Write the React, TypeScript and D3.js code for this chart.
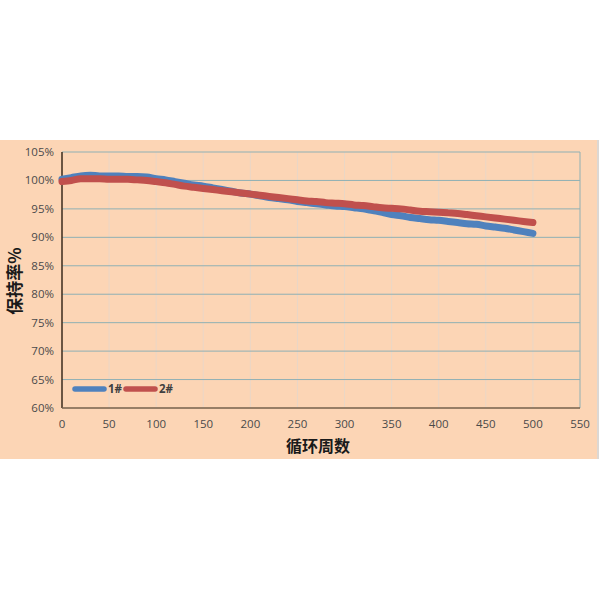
import React from "react";
import * as d3 from "d3";

const cycles = [0,10,20,30,40,50,60,70,80,90,100,110,120,130,140,150,160,170,180,190,200,210,220,230,240,250,260,270,280,290,300,310,320,330,340,350,360,370,380,390,400,410,420,430,440,450,460,470,480,490,500];
const series1 = [100.2,100.5,100.8,100.9,100.8,100.8,100.8,100.7,100.7,100.6,100.3,100.1,99.8,99.5,99.2,99.0,98.7,98.4,98.1,97.8,97.6,97.3,97.0,96.8,96.6,96.3,96.1,95.9,95.7,95.5,95.4,95.2,95.0,94.7,94.4,94.0,93.8,93.5,93.3,93.1,93.0,92.8,92.6,92.4,92.3,92.0,91.8,91.6,91.3,91.0,90.7];
const series2 = [99.8,100.0,100.3,100.3,100.3,100.2,100.2,100.2,100.1,100.0,99.8,99.6,99.3,99.0,98.8,98.6,98.4,98.2,98.0,97.8,97.6,97.4,97.2,97.0,96.8,96.6,96.4,96.3,96.1,96.0,95.9,95.7,95.6,95.4,95.2,95.1,95.0,94.8,94.6,94.5,94.4,94.3,94.2,94.0,93.8,93.6,93.4,93.2,93.0,92.8,92.6];
const seriesNames = ["1#", "2#"];
const xTicks = [0,50,100,150,200,250,300,350,400,450,500,550];
const yTicks = [60,65,70,75,80,85,90,95,100,105];
const xTitle = "循环周数";
const yTitle = "保持率%";

export default function App() {
  const x = d3.scaleLinear().domain([0, 550]).range([62, 580]);
  const y = d3.scaleLinear().domain([60, 105]).range([408, 152]);
  const line = (vals: number[]) =>
    d3.line<number>().x((_, i) => x(cycles[i])).y((v) => y(v)).curve(d3.curveMonotoneX)(vals) || "";
  const colors = ["#4f81bd", "#c0504d"];
  const font = "'Open Sans', 'Liberation Sans', sans-serif";
  return (
    <svg width={600} height={600} style={{ position: "fixed", left: 0, top: 0 }}>
      <rect x={0} y={0} width={600} height={600} fill="#ffffff" />
      <rect x={0} y={140} width={597} height={319} fill="#fcd5b5" />
      <line x1={598} x2={598} y1={140} y2={459} stroke="#b9b0a8" strokeWidth={1} />
      {xTicks.slice(1).map((t) => (
        <line key={"vx" + t} x1={x(t)} x2={x(t)} y1={152} y2={408} stroke={t === 550 ? "#8fb0b4" : "#ead7c6"} strokeWidth={1} />
      ))}
      {yTicks.slice(1).map((t) => (
        <line key={"hy" + t} x1={62} x2={580} y1={y(t)} y2={y(t)} stroke="#8fb0b4" strokeWidth={1} />
      ))}
      <line x1={62} x2={62} y1={152} y2={408} stroke="#3b2a1c" strokeWidth={1.5} />
      <line x1={62} x2={580} y1={408} y2={408} stroke="#76604d" strokeWidth={1.5} />
      {yTicks.map((t) => (
        <text key={"yt" + t} x={54} y={y(t) + 4} textAnchor="end" fontSize={11.5} fill="#4a4a4a" fontFamily={font}>{t}%</text>
      ))}
      {xTicks.map((t) => (
        <text key={"xt" + t} x={x(t)} y={428} textAnchor="middle" fontSize={11.5} fill="#4a4a4a" fontFamily={font}>{t}</text>
      ))}
      {[series1, series2].map((s, i) => (
        <path key={"s" + i} d={line(s)} fill="none" stroke={colors[i]} strokeWidth={7} strokeLinecap="round" strokeLinejoin="round" />
      ))}
      {seriesNames.map((n, i) => (
        <g key={"lg" + i}>
          <line x1={75 + i * 51} x2={104 + i * 51} y1={389} y2={389} stroke={colors[i]} strokeWidth={5.5} strokeLinecap="round" />
          <text x={108 + i * 51} y={393} fontSize={11.5} fontWeight="bold" fill="#404040" fontFamily={font}>{n}</text>
        </g>
      ))}
      <text x={318} y={452} textAnchor="middle" fontSize={16} fontWeight="bold" fill="#1a1a1a" fontFamily="'Noto Sans CJK SC', sans-serif">{xTitle}</text>
      <text transform="translate(21,281) rotate(-90)" textAnchor="middle" fontSize={17} fontWeight="bold" fill="#1a1a1a" fontFamily="'Noto Sans CJK SC', sans-serif">{yTitle}</text>
    </svg>
  );
}
